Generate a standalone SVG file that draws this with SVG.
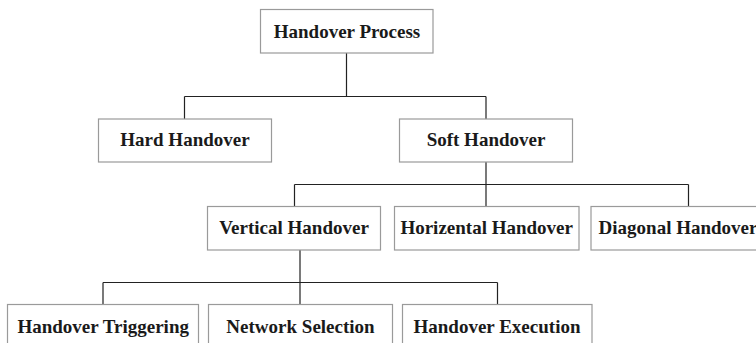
<svg xmlns="http://www.w3.org/2000/svg" width="756" height="343" viewBox="0 0 756 343">
<style>
.box{fill:#fff;stroke:#9a9a9a;stroke-width:1.2}
.lbl{font-family:"Liberation Serif","Times New Roman",serif;font-weight:bold;font-size:19px;fill:#1a1a1a;text-anchor:middle}
.con{fill:none;stroke:#222;stroke-width:1.2}
</style>
<rect width="756" height="343" fill="#fff"/>
<g id="connectors">
<path class="con" d="M346.5 53V96.5M184.5 96.5H486M184.5 96.5V119M486 96.5V119"/>
<path class="con" d="M486 162V206M294.5 184.5H688.5M294.5 184.5V206M688.5 184.5V206"/>
<path class="con" d="M300 250V304M103 282.5H497.5M103 282.5V304M497.5 282.5V304"/>
</g>
<g id="n-process"><rect class="box" x="260.5" y="9.5" width="172.5" height="43.5"/><text class="lbl" x="347" y="37.5">Handover Process</text></g>
<g id="n-hard"><rect class="box" x="98.5" y="119" width="173" height="43"/><text class="lbl" x="185" y="146">Hard Handover</text></g>
<g id="n-soft"><rect class="box" x="399.5" y="119" width="173" height="43"/><text class="lbl" x="486" y="146">Soft Handover</text></g>
<g id="n-vertical"><rect class="box" x="207.5" y="206.5" width="173" height="43.5"/><text class="lbl" x="294" y="234">Vertical Handover</text></g>
<g id="n-horizental"><rect class="box" x="394.5" y="206.5" width="184.5" height="43.5"/><text class="lbl" x="486.7" y="234">Horizental Handover</text></g>
<g id="n-diagonal"><rect class="box" x="591" y="206.5" width="174" height="43.5"/><text class="lbl" x="678" y="234">Diagonal Handover</text></g>
<g id="n-triggering"><rect class="box" x="7.5" y="304.5" width="191" height="45"/><text class="lbl" x="103.2" y="332.5">Handover Triggering</text></g>
<g id="n-selection"><rect class="box" x="208.5" y="304.5" width="184" height="45"/><text class="lbl" x="300.5" y="332.5">Network Selection</text></g>
<g id="n-execution"><rect class="box" x="402.5" y="304.5" width="189.5" height="45"/><text class="lbl" x="497" y="332.5">Handover Execution</text></g>
</svg>
